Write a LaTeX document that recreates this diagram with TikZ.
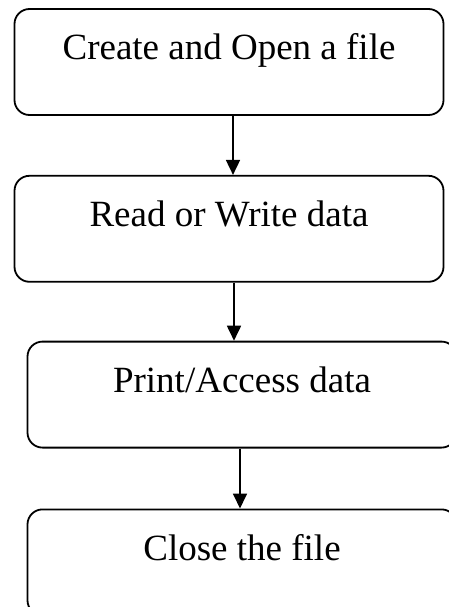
\documentclass[tikz,border=0pt]{standalone}
\usepackage{fontspec}
\setmainfont{Liberation Serif}
\usetikzlibrary{positioning,arrows.meta}

\begin{document}
\begin{tikzpicture}[
        stepbox/.style={draw, line width=1.8pt, rounded corners=15pt,
            minimum width=429pt, inner xsep=0pt, inner ysep=0pt,
            text height=51pt, text depth=55pt, anchor=base,
            font=\fontsize{37}{44}\selectfont},
        flow/.style={line width=1.8pt, -{Triangle[length=15pt,width=14pt]}}
    ]
            \useasboundingbox (0,0) rectangle (448pt,-607pt);

            \node[stepbox] (open) at (229pt,-60pt) {Create and Open a file};
            \node[stepbox, below=59pt of open] (rw) {Read or Write data};
            \node[stepbox, below=58pt of rw, xshift=13pt] (print) {Print/Access data};
            \node[stepbox, below=60pt of print] (close) {Close the file};

            \draw[flow] ([xshift=4pt]open.south) -- ([xshift=4pt]open.south |- rw.north);
            \draw[flow] ([xshift=5pt]rw.south) -- ([xshift=5pt]rw.south |- print.north);
            \draw[flow] ([xshift=-2pt]print.south) -- ([xshift=-2pt]print.south |- close.north);
        \end{tikzpicture}
\end{document}
